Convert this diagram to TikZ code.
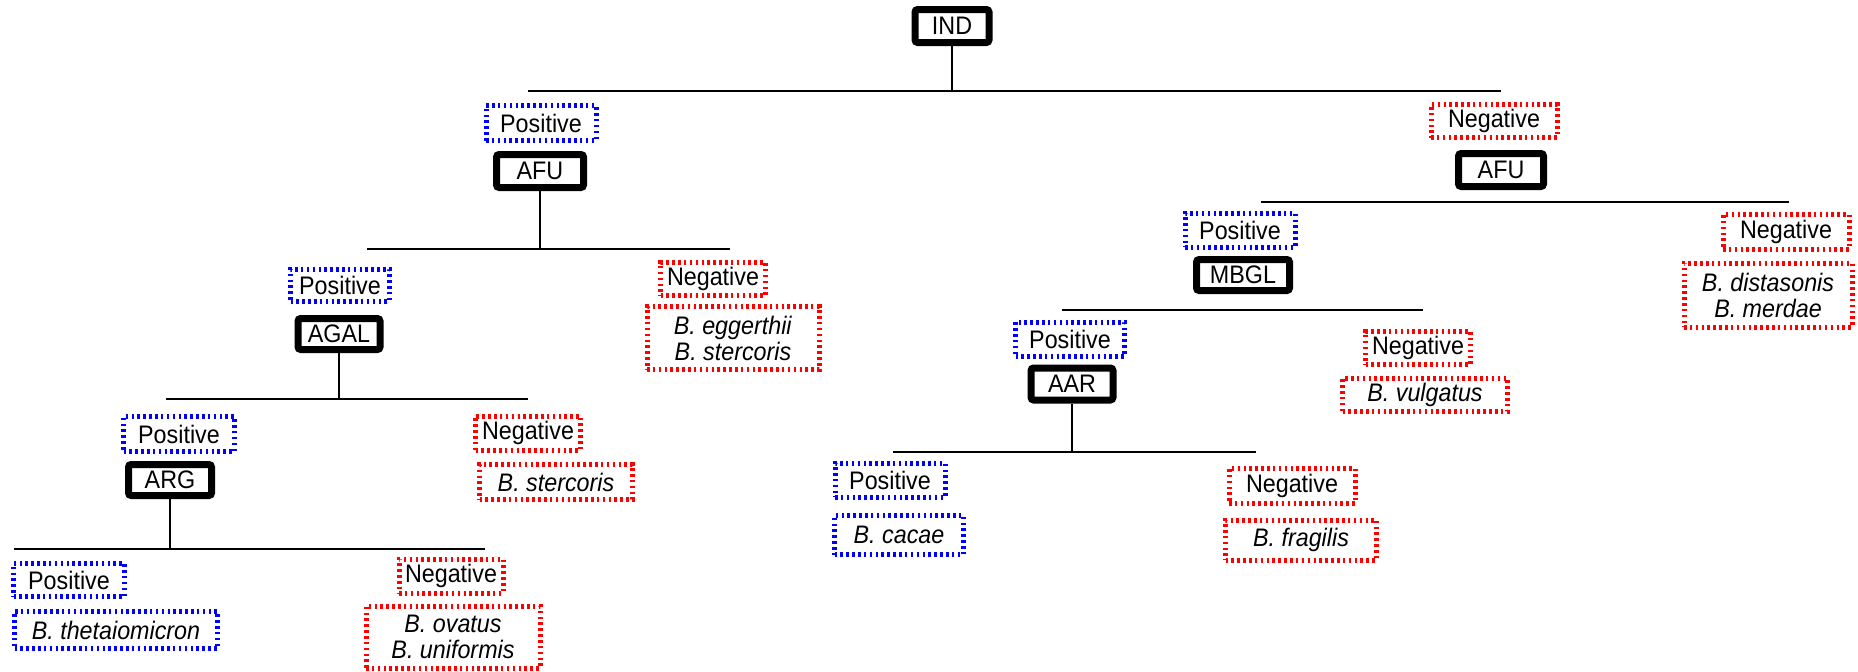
\documentclass[tikz,border=0pt]{standalone}
\usepackage{fontspec}
\setmainfont[FakeStretch=0.92]{Liberation Sans}

\tikzset{every picture/.style={line width=0.75pt}}
\tikzset{
  every node/.style={font=\fontsize{19pt}{19.5pt}\selectfont, inner sep=0pt, align=center},
  testbox/.style={draw={rgb, 255:red, 0; green, 0; blue, 0 }, line width=5.25pt, rounded corners=2pt, fill=white},
  posbox/.style={draw={rgb, 255:red, 0; green, 0; blue, 255 }, line width=3.75pt, dash pattern=on 1.9pt off 2.5pt},
  negbox/.style={draw={rgb, 255:red, 255; green, 0; blue, 0 }, line width=3.75pt, dash pattern=on 1.9pt off 2.5pt},
  bar/.style={line width=1.9pt}
}

\begin{document}
\begin{tikzpicture}[x=0.75pt,y=0.75pt,yscale=-1,xscale=1]
	\useasboundingbox (0,0) rectangle (1858,671);

	%Bars
	\coordinate (b1l) at (528,91);  \coordinate (b1r) at (1501,91);
	\coordinate (b2l) at (367,249); \coordinate (b2r) at (730,249);
	\coordinate (c2l) at (1261,202); \coordinate (c2r) at (1789,202);
	\coordinate (b3l) at (166,399); \coordinate (b3r) at (528,399);
	\coordinate (c3l) at (1062,310); \coordinate (c3r) at (1423,310);
	\coordinate (b4l) at (14,549);  \coordinate (b4r) at (485,549);
	\coordinate (c4l) at (893,452); \coordinate (c4r) at (1256,452);
	\draw [bar] (b1l) -- (b1r) ;
	\draw [bar] (b2l) -- (b2r) ;
	\draw [bar] (c2l) -- (c2r) ;
	\draw [bar] (b3l) -- (b3r) ;
	\draw [bar] (c3l) -- (c3r) ;
	\draw [bar] (b4l) -- (b4r) ;
	\draw [bar] (c4l) -- (c4r) ;

	% Test boxes
	\draw (952,26) node [testbox, minimum width=55.5pt, minimum height=24.75pt] (ind) {IND};
	\draw (540,171) node [testbox, minimum width=65.25pt, minimum height=24.75pt] (afuL) {AFU};
	\draw (1501,170) node [testbox, minimum width=63.75pt, minimum height=24.75pt] (afuR) {AFU};
	\draw (1243,275) node [testbox, minimum width=69.75pt, minimum height=23.25pt] (mbgl) {MBGL};
	\draw (339,334) node [testbox, minimum width=61.5pt, minimum height=23.25pt] (agal) {AGAL};
	\draw (170,480) node [testbox, minimum width=62.25pt, minimum height=23.25pt] (arg) {ARG};
	\draw (1072,384) node [testbox, minimum width=61.5pt, minimum height=24pt] (aar) {AAR};

	% Positive boxes
	\draw (541,123) node [posbox, minimum width=82.5pt, minimum height=26.25pt] (posA) {Positive};
	\draw (340,285) node [posbox, minimum width=74.25pt, minimum height=24pt] (posB) {Positive};
	\draw (179,434) node [posbox, minimum width=83.25pt, minimum height=26.25pt] (posC) {Positive};
	\draw (69,580) node [posbox, minimum width=83.25pt, minimum height=24.75pt] (posD) {Positive};
	\draw (1240,230) node [posbox, minimum width=82.5pt, minimum height=25.5pt] (posE) {Positive};
	\draw (1070,339) node [posbox, minimum width=81.75pt, minimum height=25.5pt] (posF) {Positive};
	\draw (890,480) node [posbox, minimum width=82.5pt, minimum height=25.5pt] (posG) {Positive};
	\draw (116,630) node [posbox, minimum width=152.25pt, minimum height=27.75pt] (thet) {\textit{B. thetaiomicron}};
	\draw (899,535) node [posbox, minimum width=96.75pt, minimum height=29.25pt] (cacae) {\textit{B. cacae}};

	% Negative boxes
	\draw (1494,121) node [negbox, minimum width=94.5pt, minimum height=24.75pt] (negA) {Negative};
	\draw (1786,232) node [negbox, minimum width=94.5pt, minimum height=26.25pt] (negB) {Negative};
	\draw (713,279) node [negbox, minimum width=78.75pt, minimum height=24.75pt] (negC) {Negative};
	\draw (528,433) node [negbox, minimum width=78.75pt, minimum height=25.5pt] (negD) {Negative};
	\draw (451,576) node [negbox, minimum width=78pt, minimum height=25.5pt] (negE) {Negative};
	\draw (1418,348) node [negbox, minimum width=78.75pt, minimum height=24.75pt] (negF) {Negative};
	\draw (1292,486) node [negbox, minimum width=94.5pt, minimum height=26.25pt] (negG) {Negative};
	\draw (1768,295) node [negbox, minimum width=126pt, minimum height=48pt] (dist) {\textit{B. distasonis}\\\textit{B. merdae}};
	\draw (733,338) node [negbox, minimum width=129pt, minimum height=47.25pt] (egg) {\textit{B. eggerthii}\\\textit{B. stercoris}};
	\draw (556,482) node [negbox, minimum width=114.75pt, minimum height=26.25pt] (sterc) {\textit{B. stercoris}};
	\draw (453,637) node [negbox, minimum width=130.5pt, minimum height=46.5pt] (ova) {\textit{B. ovatus}\\\textit{B. uniformis}};
	\draw (1425,395) node [negbox, minimum width=123.75pt, minimum height=24.75pt] (vulg) {\textit{B. vulgatus}};
	\draw (1301,540) node [negbox, minimum width=113.25pt, minimum height=30pt] (frag) {\textit{B. fragilis}};

	% Stems
	\draw [bar] (ind.south) -- (ind.south |- b1l) ;
	\draw [bar] (afuL.south) -- (afuL.south |- b2l) ;
	\draw [bar] (agal.south) -- (agal.south |- b3l) ;
	\draw [bar] (arg.south) -- (arg.south |- b4l) ;
	\draw [bar] (aar.south) -- (aar.south |- c4l) ;

\end{tikzpicture}
\end{document}
